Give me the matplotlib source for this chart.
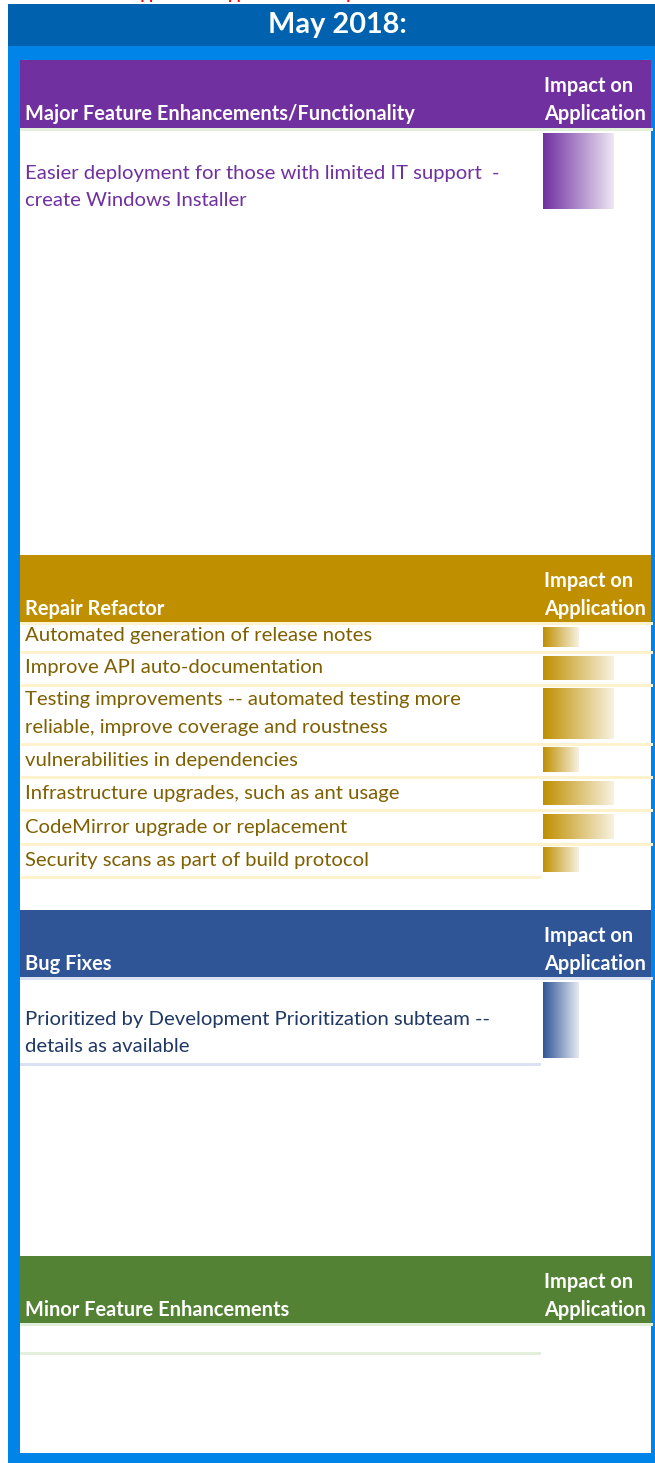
import matplotlib
matplotlib.use("Agg")
import matplotlib.pyplot as plt
import matplotlib.patches as mpatches
import numpy as np
from matplotlib.colors import to_rgb

plt.rcParams['font.family'] = ['Lato', 'DejaVu Sans']

# ---------------- data ----------------
title = "May 2018:"
top_note = "Application Support and Development Priorities"
impact_label = ["Impact on", "Application"]
section_names = ["Major Feature Enhancements/Functionality", "Repair Refactor",
                 "Bug Fixes", "Minor Feature Enhancements"]
major_items = [["Easier deployment for those with limited IT support  -",
                "create Windows Installer"]]
major_impact = [2]
repair_items = [["Automated generation of release notes"],
                ["Improve API auto-documentation"],
                ["Testing improvements -- automated testing more",
                 "reliable, improve coverage and roustness"],
                ["vulnerabilities in dependencies"],
                ["Infrastructure upgrades, such as ant usage"],
                ["CodeMirror upgrade or replacement"],
                ["Security scans as part of build protocol"]]
repair_impact = [1, 2, 2, 1, 2, 2, 1]
bug_items = [["Prioritized by Development Prioritization subteam --",
              "details as available"]]
bug_impact = [1]
minor_items = [[]]
minor_impact = [0]

# ---------------- style / layout ----------------
W, H = 655, 1463
header_colors = ["#7030A0", "#BF8F00", "#2F5597", "#548235"]
text_colors = ["#7030A0", "#7F6000", "#203864", "#375623"]
line_colors = ["#E2EFDA", "#FFF2CC", "#D9E1F2", "#E2EFDA"]
layouts = [
    dict(top=60, bottom=128, lines=[129.5, 217.5], last_visible=False),
    dict(top=555, bottom=622, lines=[623.5, 652.5, 685, 744, 777.5, 810.5, 844, 877.5], last_visible=True),
    dict(top=910, bottom=977, lines=[978.5, 1064], last_visible=True),
    dict(top=1256, bottom=1323, lines=[1324.5, 1353.5], last_visible=True),
]
all_items = [major_items, repair_items, bug_items, minor_items]
all_impact = [major_impact, repair_impact, bug_impact, minor_impact]

PX_PER_UNIT = 35.5
BAR_X0 = 543
ITEM_FS = 14.6
HEAD_FS = 14.4

fig = plt.figure(figsize=(W / 100, H / 100), dpi=100)
ax = fig.add_axes([0, 0, 1, 1])
ax.set_xlim(0, W)
ax.set_ylim(H, 0)
ax.axis('off')

def rect(x0, y0, x1, y1, color, z=1):
    ax.add_patch(mpatches.Rectangle((x0, y0), x1 - x0, y1 - y0, facecolor=color,
                                    edgecolor='none', zorder=z))

# frame
ax.text(293, -1, top_note, color="#FF0000", fontsize=11, ha='center', va='baseline',
        fontweight='bold', zorder=1.5)
rect(8, 4, W, 46, "#0062AE", z=2)
rect(8, 46, W, H, "#0084E8")
rect(20, 60, 651, 1453, "#FFFFFF")
ax.text(337, 33, title, color='white', fontsize=20.8, fontweight='bold',
        ha='center', va='baseline', zorder=4)

def gradient_bar(yc, h, value, color):
    w = value * PX_PER_UNIT
    bars = ax.barh([yc], [w], left=BAR_X0, height=h, color='none', edgecolor='none', zorder=3)
    patch = bars.patches[0]
    c0 = np.array(to_rgb(color))
    c1 = c0 + (1 - c0) * 0.88
    t = np.linspace(0, 1, 256)[None, :, None]
    grad = c0[None, None, :] * (1 - t) + c1[None, None, :] * t
    im = ax.imshow(grad, extent=(BAR_X0, BAR_X0 + w, yc + h / 2, yc - h / 2),
                   aspect='auto', zorder=3, interpolation='bilinear')
    im.set_clip_path(patch)

for s, lay in enumerate(layouts):
    col = header_colors[s]
    rect(20, lay['top'], 651, lay['bottom'], col, z=2)
    ax.text(25, lay['top'] + 60, section_names[s], color='white', fontsize=HEAD_FS,
            fontweight='bold', ha='left', va='baseline', zorder=4)
    ax.text(544, lay['top'] + 32, impact_label[0], color='white', fontsize=HEAD_FS,
            fontweight='bold', ha='left', va='baseline', zorder=4)
    ax.text(544, lay['top'] + 60, impact_label[1], color='white', fontsize=HEAD_FS,
            fontweight='bold', ha='left', va='baseline', zorder=4)
    lines = lay['lines']
    n = len(lines)
    for i, yl in enumerate(lines):
        last = (i == n - 1)
        if last and not lay['last_visible']:
            continue
        x1 = 541 if last else 653
        rect(20, yl - 1.5, x1, yl + 1.5, line_colors[s], z=2)
    items = all_items[s]
    vals = all_impact[s]
    for r, (item, v) in enumerate(zip(items, vals)):
        row_top = lines[r] + 1.5
        row_bot = lines[r + 1] - 1.5
        for k, txt in enumerate(reversed(item)):
            ax.text(25, row_bot - 10 - 27.5 * k, txt, color=text_colors[s], fontsize=ITEM_FS,
                    ha='left', va='baseline', zorder=4)
        if v > 0:
            b0 = row_top + 1.5
            b1 = min(row_bot - 3.5, b0 + 77)
            gradient_bar((b0 + b1) / 2, b1 - b0, v, col)

fig.savefig("out.png", dpi=100)
